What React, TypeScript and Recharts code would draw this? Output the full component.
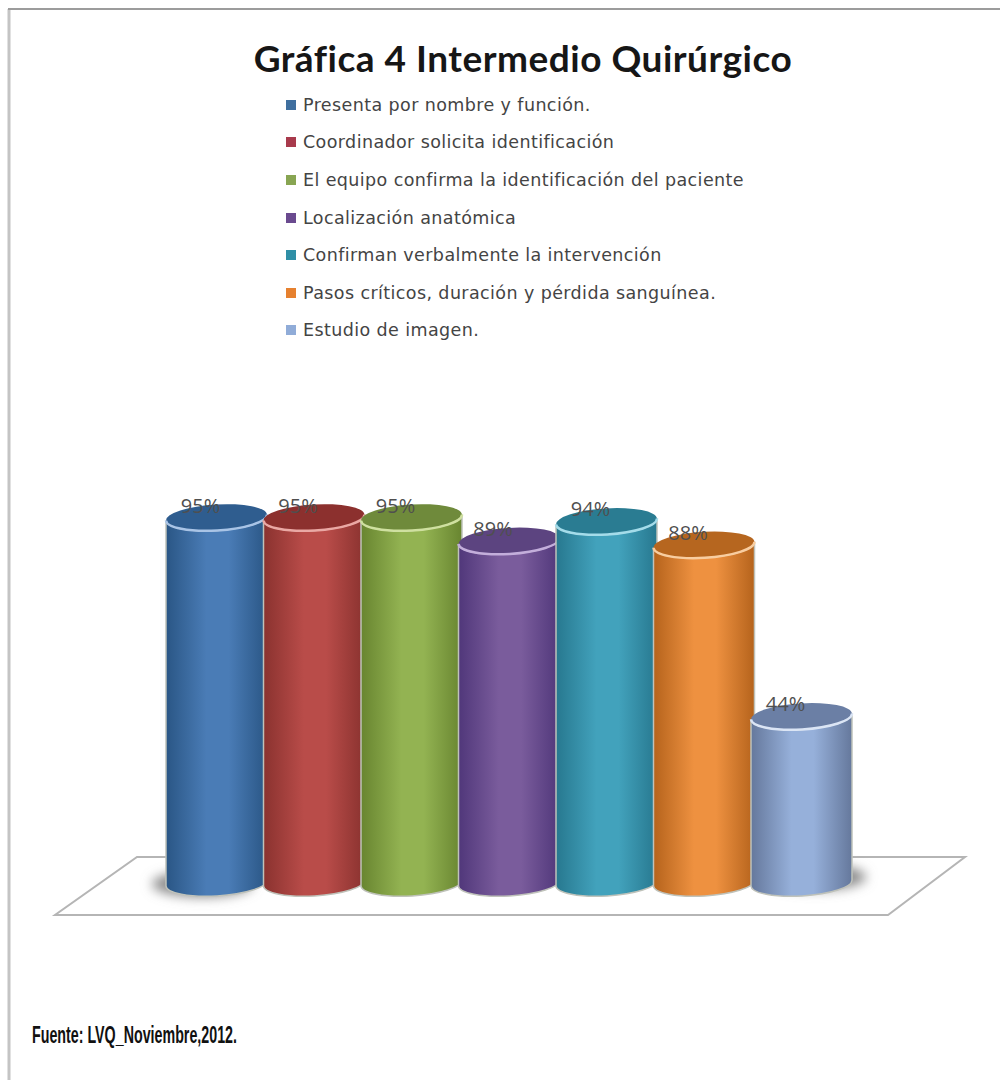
import React from 'react';
import { BarChart, Bar, XAxis, YAxis, Legend, LabelList } from 'recharts';

const categories = [
  'Presenta por nombre y función.',
  'Coordinador solicita identificación',
  'El equipo confirma la identificación del paciente',
  'Localización anatómica',
  'Confirman verbalmente la intervención',
  'Pasos críticos, duración y pérdida sanguínea.',
  'Estudio de imagen.',
];
const percentages = [95, 95, 95, 89, 94, 88, 44];

const midColors = ['#4a7cb6', '#b94c49', '#93b352', '#7a5c9c', '#42a2bc', '#ee9140', '#96b0da'];
const edgeColors = ['#2a5685', '#8a322f', '#688530', '#50377a', '#27788f', '#b5631c', '#65789c'];
const capColors = ['#2f5d8f', '#8c302e', '#6f8a3b', '#5c4480', '#2a7c92', '#b6661f', '#6b7fa5'];
const rimColors = ['#a9c4e6', '#eaa8a4', '#cfe0a0', '#c3aedb', '#a4dcea', '#f8cda0', '#dbe5f5'];
const markerColors = ['#3f6f9f', '#a83a4c', '#88a552', '#6a4a8f', '#2f8fa6', '#e6812f', '#90acd8'];

const data = categories.map((name, i) => ({ name, value: percentages[i] }));

const TILT = 3.4;
const RY = 13;
const OVERHANG = 1.5;

// cylinder with a tilted elliptical cap and a rounded base
const Cylinder = (props: any) => {
  const { x, y, width, height, index } = props;
  const rx = width / 2 + OVERHANG;
  const cx = x + width / 2;
  const left = cx - rx;
  const right = cx + rx;
  const rise = rx * Math.sin((TILT * Math.PI) / 180);
  const baseY = y + height - 5;
  const body = `M${left},${y + rise} A${rx},${RY} ${-TILT} 0 0 ${right},${y - rise} L${right},${baseY - rise} A${rx},${RY} ${-TILT} 0 1 ${left},${baseY + rise} Z`;
  const rim = `M${left},${y + rise} A${rx},${RY} ${-TILT} 0 0 ${right},${y - rise}`;
  const isFirst = index === 0;
  const isLast = index === categories.length - 1;
  return (
    <g>
      {(isFirst || isLast) && (
        <ellipse
          cx={cx + (isFirst ? -14 : 14)}
          cy={baseY - (isFirst ? -1 : 6)}
          rx={rx}
          ry={RY}
          fill="#8a8a8a"
          filter="url(#floorShadow)"
        />
      )}
      <path d={body} fill={`url(#side${index})`} stroke="#bfc2ba" strokeWidth={1.5} />
      <ellipse
        cx={cx}
        cy={y}
        rx={rx}
        ry={RY}
        transform={`rotate(${-TILT} ${cx} ${y})`}
        fill={capColors[index]}
      />
      <path d={rim} fill="none" stroke={rimColors[index]} strokeWidth={2.5} />
    </g>
  );
};

const PercentLabel = (props: any) => {
  const { x, y, width, value } = props;
  return (
    <text
      x={x + width / 2 - 16}
      y={y - 5}
      textAnchor="middle"
      fontSize={20}
      fontFamily="'Open Sans', sans-serif"
      fill="#4f4f4f"
    >
      {`${value}%`}
    </text>
  );
};

const LegendList = () => (
  <div>
    {categories.map((name, i) => (
      <div
        key={name}
        style={{ display: 'flex', alignItems: 'center', height: 37.6, whiteSpace: 'nowrap' }}
      >
        <span style={{ width: 10, height: 10, marginRight: 7, background: markerColors[i] }} />
        <span style={{ fontFamily: "'DejaVu Sans', sans-serif", fontSize: 17.5, color: '#444', letterSpacing: 0.4 }}>
          {name}
        </span>
      </div>
    ))}
  </div>
);

export default function App() {
  return (
    <div style={{ position: 'absolute', left: 0, top: 0, width: 1000, height: 1080, background: '#fff' }}>
      <BarChart
        width={1000}
        height={1080}
        data={data}
        barCategoryGap={0}
        barGap={0}
        margin={{ top: 498, right: 150, bottom: 192, left: 167.5 }}
      >
        <defs>
          {midColors.map((mid, i) => (
            <linearGradient key={mid} id={`side${i}`} x1="0" y1="0" x2="1" y2="0">
              <stop offset="0%" stopColor={edgeColors[i]} />
              <stop offset="40%" stopColor={mid} />
              <stop offset="62%" stopColor={mid} />
              <stop offset="100%" stopColor={edgeColors[i]} />
            </linearGradient>
          ))}
          <filter id="floorShadow" x="-30%" y="-80%" width="160%" height="260%">
            <feGaussianBlur stdDeviation="6" />
          </filter>
        </defs>
        {/* page frame */}
        <line x1={9} y1={9} x2={9} y2={1080} stroke="#c4c4c4" strokeWidth={3} />
        <line x1={8} y1={9} x2={1000} y2={9} stroke="#9c9c9c" strokeWidth={2} />
        {/* floor plane under the columns */}
        <polygon points="55,915 888,915 965,857 137,857" fill="#fff" stroke="#b5b5b5" strokeWidth={2} />
        <text
          x={523}
          y={72}
          textAnchor="middle"
          fontSize={37}
          fontWeight={700}
          letterSpacing={0.5}
          fontFamily="Lato, sans-serif"
          fill="#161616"
        >
          Gráfica 4 Intermedio Quirúrgico
        </text>
        <text
          x={32}
          y={1043}
          fontSize={24}
          fontWeight={700}
          fontFamily="'Liberation Sans Narrow', 'Liberation Sans', sans-serif"
          fill="#111"
          textLength={205}
          lengthAdjust="spacingAndGlyphs"
        >
          Fuente: LVQ_Noviembre,2012.
        </text>
        <XAxis dataKey="name" hide />
        <YAxis hide domain={[0, 100]} />
        <Legend
          layout="horizontal"
          verticalAlign="middle"
          content={<LegendList />}
          wrapperStyle={{ left: 286, top: 86, width: 500 }}
        />
        <Bar dataKey="value" shape={<Cylinder />} isAnimationActive={false}>
          <LabelList dataKey="value" content={<PercentLabel />} />
        </Bar>
      </BarChart>
    </div>
  );
}
